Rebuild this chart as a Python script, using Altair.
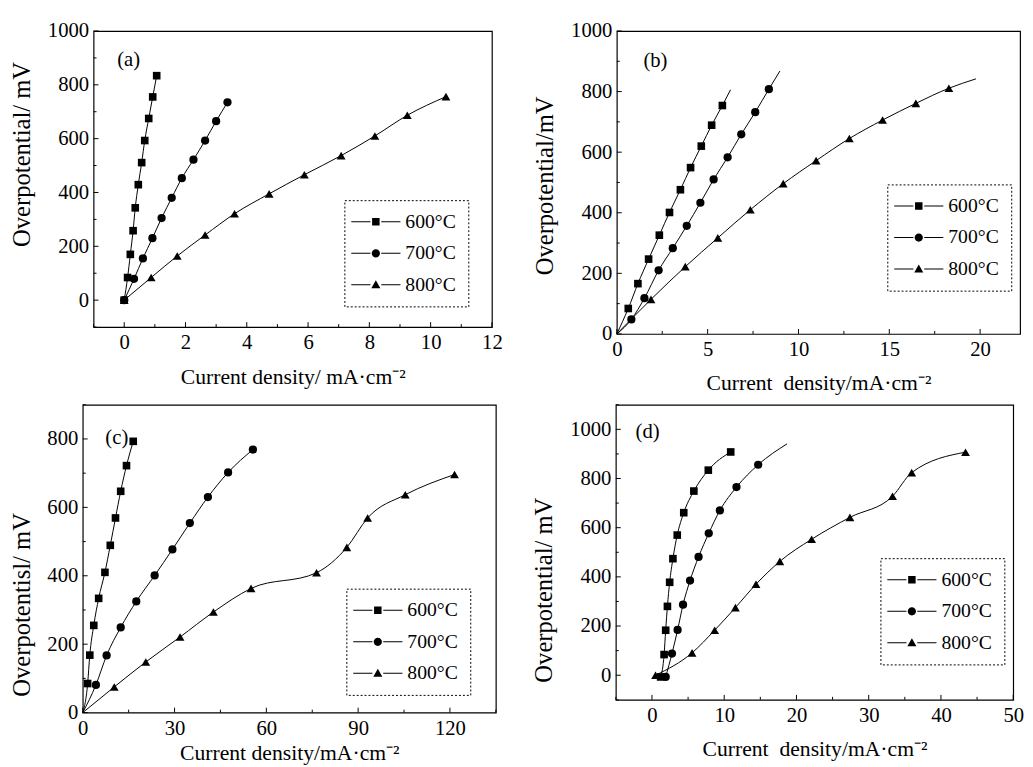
import altair as alt
import pandas as pd

SER = ["600°C", "700°C", "800°C"]
FONT = "Liberation Serif"

# ---------------- panel (a) ----------------
a600_x = [0, 0.11, 0.20, 0.29, 0.36, 0.46, 0.57, 0.67, 0.80, 0.93, 1.06]
a600_y = [0, 84, 170, 258, 343, 429, 511, 593, 675, 755, 834]
a700_x = [0, 0.32, 0.61, 0.92, 1.22, 1.55, 1.88, 2.26, 2.64, 3.0, 3.37]
a700_y = [0, 79, 155, 230, 305, 380, 453, 522, 593, 665, 735]
a800_x = [0, 0.88, 1.73, 2.64, 3.6, 4.73, 5.88, 7.08, 8.18, 9.24, 10.5]
a800_y = [0, 84, 164, 242, 321, 395, 466, 537, 610, 687, 756]

# ---------------- panel (b) ----------------
b600_x = [0.63, 1.16, 1.75, 2.34, 2.9, 3.5, 4.06, 4.65, 5.22, 5.81]
b600_y = [84, 166, 247, 326, 401, 476, 549, 620, 689, 754]
b700_x = [0.8, 1.52, 2.3, 3.08, 3.85, 4.6, 5.33, 6.1, 6.85, 7.62, 8.37]
b700_y = [48, 118, 210, 283, 357, 433, 510, 583, 659, 732, 808]
b800_x = [1.88, 3.77, 5.56, 7.35, 9.16, 10.97, 12.8, 14.63, 16.46, 18.28]
b800_y = [114, 222, 317, 410, 496, 572, 645, 706, 761, 811]
# fitted curve ends (line only, no marker)
b_head_x = [0, 0, 0]
b_head_y = [0, 0, 0]
b_tail_x = [6.26, 8.98, 19.77]
b_tail_y = [806, 868, 842]

# ---------------- panel (c) ----------------
c600_x = [1.6, 2.3, 3.6, 5.2, 7.25, 9.0, 10.7, 12.4, 14.3, 16.5]
c600_y = [85, 168, 255, 334, 410, 489, 569, 647, 722, 793]
c700_x = [4.3, 7.8, 12.4, 17.5, 23.5, 29.3, 35, 40.9, 47.5, 55.6]
c700_y = [81, 167, 249, 325, 401, 477, 554, 630, 702, 769]
c800_x = [10.3, 20.6, 31.8, 42.7, 55, 76.4, 86.3, 93.1, 105.4, 121.5]
c800_y = [75, 148, 221, 294, 363, 409, 483, 569, 637, 696]
c_head_x = [0, 0, 0]
c_head_y = [0, 0, 0]

# ---------------- panel (d) ----------------
d600_x = [1.2, 1.68, 1.9, 2.14, 2.45, 2.9, 3.5, 4.4, 5.8, 7.8, 10.9]
d600_y = [-7, 84, 183, 280, 378, 474, 570, 661, 749, 834, 908]
d700_x = [1.9, 2.77, 3.55, 4.3, 5.27, 6.45, 7.86, 9.4, 11.7, 14.7]
d700_y = [-7, 88, 184, 287, 385, 481, 577, 670, 765, 856]
d800_x = [0.5, 5.55, 8.68, 11.55, 14.4, 17.7, 22.1, 27.4, 33.3, 35.95, 43.4]
d800_y = [0, 91, 183, 275, 370, 463, 553, 642, 728, 824, 907]
d_tail_x = [None, 18.7, None]
d_tail_y = [None, 941, None]

# legend symbols: line - marker - line
LEG_PATHS = [
    "M-2.5,-0.05H-0.55V0.05H-2.5Z M-0.38,-0.38H0.38V0.38H-0.38Z M0.55,-0.05H2.5V0.05H0.55Z",
    "M-2.5,-0.05H-0.55V0.05H-2.5Z M-0.42,0A0.42,0.42,0,1,0,0.42,0A0.42,0.42,0,1,0,-0.42,0Z M0.55,-0.05H2.5V0.05H0.55Z",
    "M-2.5,-0.05H-0.55V0.05H-2.5Z M0,-0.46L0.46,0.36L-0.46,0.36Z M0.55,-0.05H2.5V0.05H0.55Z",
]


def frames(markers, heads=None, tails=None):
    prow, lrow = [], []
    for i, (s, (xs, ys)) in enumerate(zip(SER, markers)):
        pts = list(zip(xs, ys))
        for x, y in pts:
            prow.append({"series": s, "x": x, "y": y})
        line = list(pts)
        if heads is not None and heads[0][i] is not None:
            line = [(heads[0][i], heads[1][i])] + line
        if tails is not None and tails[0][i] is not None:
            line = line + [(tails[0][i], tails[1][i])]
        for x, y in line:
            lrow.append({"series": s, "x": x, "y": y})
    return pd.DataFrame(prow), pd.DataFrame(lrow)


def panel(markers, heads, tails, xdom, ydom, w, h, xmaj, xmin, ymaj, ymin,
          xtitle, ytitle, ytitle_y, letter, lpos, legpos, top_pad=0, xtitle_pad=14):
    pdf, ldf = frames(markers, heads, tails)
    xs = alt.Scale(domain=xdom, nice=False, zero=False)
    ys = alt.Scale(domain=ydom, nice=False, zero=False)
    common = dict(labelFont=FONT, labelFontSize=21, labelColor="black", format="d",
                  titleFont=FONT, titleColor="black", titleFontWeight="normal",
                  ticks=False, tickSize=0, domain=False, grid=False,
                  labelPadding=5, labelOverlap=False, labelFlush=False)
    xax = alt.Axis(values=xmaj, title=xtitle, titleFontSize=22, titlePadding=xtitle_pad, **common)
    yax = alt.Axis(values=ymaj, title=ytitle, titleFontSize=25, titlePadding=13, titleY=ytitle_y, **common)

    lines = alt.Chart(ldf).mark_line(color="black", strokeWidth=1, interpolate="monotone").encode(
        x=alt.X("x:Q", scale=xs, axis=xax),
        y=alt.Y("y:Q", scale=ys, axis=yax),
        detail="series:N",
    )
    pts = alt.Chart(pdf).mark_point(filled=True, color="black", opacity=1).encode(
        x=alt.X("x:Q", scale=xs, axis=xax),
        y=alt.Y("y:Q", scale=ys, axis=yax),
        shape=alt.Shape("series:N", scale=alt.Scale(domain=SER, range=["square", "circle", "triangle-up"]), legend=None),
        size=alt.Size("series:N", scale=alt.Scale(domain=SER, range=[60, 80, 85]), legend=None),
    )
    layers = [lines, pts]
    for vals, ln in ((xmaj, 5), (xmin, 3)):
        layers.append(alt.Chart(pd.DataFrame({"v": vals})).mark_rule(color="black", strokeWidth=1).encode(
            x=alt.X("v:Q", scale=xs, axis=xax), y=alt.value(h), y2=alt.value(h - ln)))
    for vals, ln in ((ymaj, 5), (ymin, 3)):
        layers.append(alt.Chart(pd.DataFrame({"v": vals})).mark_rule(color="black", strokeWidth=1).encode(
            y=alt.Y("v:Q", scale=ys, axis=yax), x=alt.value(0), x2=alt.value(ln)))
    layers.append(alt.Chart(pd.DataFrame({"t": [letter]})).mark_text(
        font=FONT, fontSize=21, color="black", align="left", baseline="middle").encode(
        text="t:N", x=alt.value(lpos[0]), y=alt.value(lpos[1])))
    if top_pad:
        # invisible spacer above the frame (layout only)
        layers.append(alt.Chart(pd.DataFrame({"t": [0]})).mark_rule(opacity=0, strokeOpacity=0).encode(
            x=alt.value(1), y=alt.value(-top_pad), y2=alt.value(0)))
    leg = alt.Chart(pd.DataFrame({"T": SER})).transform_filter("false").mark_point(
        filled=True, color="black", opacity=1).encode(
        shape=alt.Shape("T:N", scale=alt.Scale(domain=SER, range=LEG_PATHS),
                        legend=alt.Legend(orient="none", legendX=legpos[0], legendY=legpos[1], title=None,
                                          labelFont=FONT, labelFontSize=20, labelColor="black",
                                          symbolSize=400, symbolFillColor="black", symbolStrokeWidth=0,
                                          symbolOffset=10, labelOffset=20, padding=12, rowPadding=12,
                                          strokeColor="black", fillColor="white")))
    layers.append(leg)
    return alt.layer(*layers).resolve_scale(shape="independent").properties(width=w, height=h)


pa = panel([(a600_x, a600_y), (a700_x, a700_y), (a800_x, a800_y)], None, None,
           [-1, 12], [-100, 1000], 405, 301,
           [0, 2, 4, 6, 8, 10, 12], [-1, 1, 3, 5, 7, 9, 11],
           [0, 200, 400, 600, 800, 1000], [-100, 100, 300, 500, 700, 900],
           "Current density/ mA·cm⁻²", "Overpotential/ mV", 125, "(a)", (24, 30), (255, 172))
pb = panel([(b600_x, b600_y), (b700_x, b700_y), (b800_x, b800_y)], (b_head_x, b_head_y), (b_tail_x, b_tail_y),
           [0, 22.2], [0, 1000], 410, 308,
           [0, 5, 10, 15, 20], [2.5, 7.5, 12.5, 17.5],
           [0, 200, 400, 600, 800, 1000], [100, 300, 500, 700, 900],
           "Current\u00a0 density/mA·cm⁻²", "Overpotential/mV", 157, "(b)", (27, 31), (275, 156))
pc = panel([(c600_x, c600_y), (c700_x, c700_y), (c800_x, c800_y)], (c_head_x, c_head_y), None,
           [0, 135], [0, 900], 420, 313,
           [0, 30, 60, 90, 120], [15, 45, 75, 105, 135],
           [0, 200, 400, 600, 800], [100, 300, 500, 700, 900],
           "Current density/mA·cm⁻²", "Overpotentisl/ mV", 203, "(c)", (23, 34), (268, 187), xtitle_pad=5)
pd_ = panel([(d600_x, d600_y), (d700_x, d700_y), (d800_x, d800_y)], None, (d_tail_x, d_tail_y),
            [-5, 50], [-100, 1100], 404, 300,
            [0, 10, 20, 30, 40, 50], [-5, 5, 15, 25, 35, 45],
            [0, 200, 400, 600, 800, 1000], [-100, 100, 300, 500, 700, 900, 1100],
            "Current\u00a0 density/mA·cm⁻²", "Overpotential/ mV", 188, "(d)", (20, 28), (269, 156), top_pad=11)

# invisible 1px layout spacer, lets panel (a) sit further right than panel (c)
spacer = alt.Chart(pd.DataFrame({"s": [0]})).mark_point(opacity=0).encode(
    x=alt.value(0), y=alt.value(0)).properties(width=1, height=1, view=alt.ViewBackground(stroke="transparent"))

row1 = alt.hconcat(alt.hconcat(spacer, pa, spacing=-79), pb, spacing=29)
row2 = alt.hconcat(pc, pd_, spacing=34)

chart = alt.vconcat(row1, row2, spacing=-2).properties(
    padding={"left": 0, "top": 5, "right": 0, "bottom": 0},
    background="white",
).configure_view(stroke="black", strokeWidth=1.2).configure_legend(strokeDash=[2, 2], strokeWidth=1)

chart.save("out.html", embed_options={"renderer": "svg", "actions": False})
